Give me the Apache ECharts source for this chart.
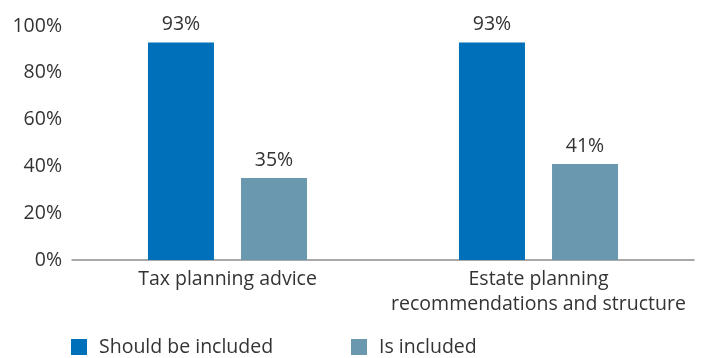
<!DOCTYPE html>
<html>
<head>
<meta charset="utf-8">
<script src="https://cdn.jsdelivr.net/npm/echarts@6/dist/echarts.min.js"></script>
<style>
  html, body { margin: 0; padding: 0; background: #fff; }
  #chart { width: 702px; height: 358px; }
</style>
</head>
<body>
<div id="chart"></div>
<script>
// Categories and values (percent)
const categories = ['Tax planning advice', 'Estate planning\nrecommendations and structure'];
const shouldBeIncluded = [93, 93];
const isIncluded = [35, 41];
const seriesNames = ['Should be included', 'Is included'];
const yTicks = { min: 0, max: 100, interval: 20 };

const FONT = 'Open Sans';
const SIZE = 19.5;
const TEXT = '#333333';
const chart = echarts.init(document.getElementById('chart'));

const legendText = { fontFamily: FONT, fontSize: SIZE, color: TEXT, padding: [0, 0, 0, 7] };
const valueLabel = { show: true, position: 'top', distance: 8, formatter: '{c}%', color: TEXT, fontFamily: FONT, fontSize: SIZE };

chart.setOption({
  animation: false,
  textStyle: { fontFamily: FONT },
  grid: { left: 72, right: 8, top: 26, bottom: 98, containLabel: false },
  legend: [
    {
      data: [seriesNames[0]], left: 71, top: 337, padding: 0,
      itemWidth: 16, itemHeight: 16, icon: 'rect', textStyle: legendText
    },
    {
      data: [seriesNames[1]], left: 351, top: 337, padding: 0,
      itemWidth: 16, itemHeight: 16, icon: 'rect', textStyle: legendText
    }
  ],
  xAxis: {
    type: 'category',
    data: categories,
    axisTick: { show: false },
    axisLine: { lineStyle: { color: '#8c8c8c', width: 1.5 } },
    axisLabel: { interval: 0, color: TEXT, fontFamily: FONT, fontSize: SIZE, margin: 7, lineHeight: 25 }
  },
  yAxis: {
    type: 'value',
    min: yTicks.min, max: yTicks.max, interval: yTicks.interval,
    axisLine: { show: false },
    axisTick: { show: false },
    splitLine: { show: false },
    axisLabel: { color: TEXT, fontFamily: FONT, fontSize: SIZE, margin: 10, formatter: '{value}%' }
  },
  series: [
    {
      name: seriesNames[0], type: 'bar', data: shouldBeIncluded,
      barWidth: 66, barGap: '41%',
      itemStyle: { color: '#0070BA' },
      label: valueLabel
    },
    {
      name: seriesNames[1], type: 'bar', data: isIncluded,
      barWidth: 66,
      itemStyle: { color: '#6A98AF' },
      label: valueLabel
    }
  ]
});
</script>
</body>
</html>
